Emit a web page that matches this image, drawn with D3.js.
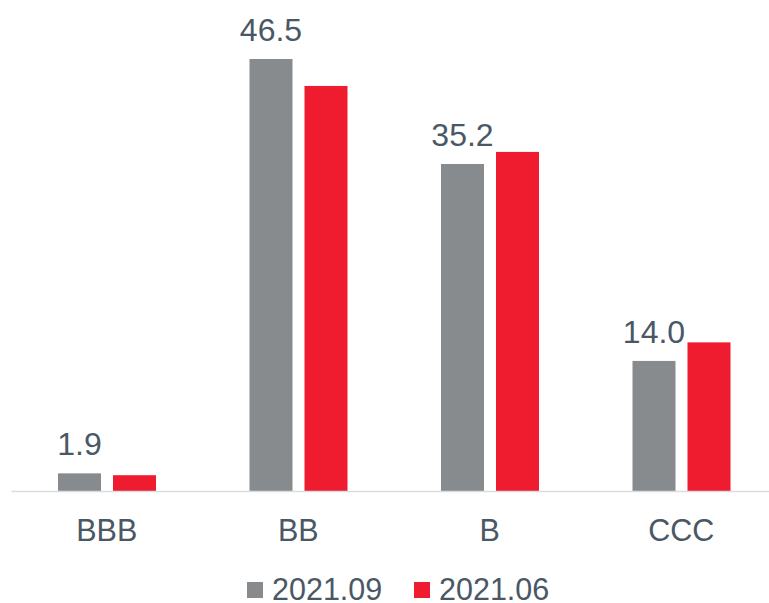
<!DOCTYPE html>
<html>
<head>
<meta charset="utf-8">
<script src="https://cdn.jsdelivr.net/npm/d3@7"></script>
<style>
  body { margin: 0; background: #fff; }
  text { font-family: "Liberation Sans", Arial, sans-serif; }
</style>
</head>
<body>
<svg id="chart" width="769" height="603"></svg>
<script>
// ratings buckets and the two snapshots
const categories = ["BBB", "BB", "B", "CCC"];
const seriesNames = ["2021.09", "2021.06"];
const values0921 = [1.9, 46.5, 35.2, 14.0];
const values0621 = [1.7, 43.6, 36.5, 16.0];
const colors = ["#888b8e", "#ee1c2e"];

const svg = d3.select("#chart");
const width = 769, height = 603;
const baseY = 491;

const data = categories.map((c, i) => ({
  cat: c,
  vals: [values0921[i], values0621[i]]
}));

const x0 = d3.scaleBand()
  .domain(categories)
  .range([11, 777])
  .padding(0);

const x1 = d3.scaleBand()
  .domain(seriesNames)
  .range([47, 145])
  .paddingInner(12 / 55)
  .paddingOuter(0);

const y = d3.scaleLinear()
  .domain([0, 50])
  .range([baseY, baseY - 50 * 9.29]);

const textColor = "#4a5866";

// bars
const groups = svg.selectAll(".grp")
  .data(data)
  .enter().append("g")
  .attr("class", "grp")
  .attr("transform", d => `translate(${x0(d.cat)},0)`);

groups.selectAll("rect")
  .data(d => d.vals.map((v, i) => ({ key: seriesNames[i], v: v, i: i })))
  .enter().append("rect")
  .attr("x", d => x1(d.key))
  .attr("y", d => y(d.v))
  .attr("width", x1.bandwidth())
  .attr("height", d => baseY - y(d.v))
  .attr("fill", d => colors[d.i]);

// value labels on first series only
groups.append("text")
  .attr("x", x1(seriesNames[0]) + x1.bandwidth() / 2)
  .attr("y", d => y(d.vals[0]) - 18)
  .attr("text-anchor", "middle")
  .attr("font-size", 32)
  .attr("fill", textColor)
  .text(d => d.vals[0].toFixed(1));

// x axis
const xAxis = d3.axisBottom(x0).tickSize(0).tickPadding(28);
const axisG = svg.append("g")
  .attr("transform", `translate(0,${baseY})`)
  .call(xAxis);
axisG.select(".domain")
  .attr("stroke", "#d9dde0")
  .attr("stroke-width", 1.5);
axisG.selectAll("text")
  .attr("font-size", 30.5)
  .attr("font-family", "Liberation Sans, Arial, sans-serif")
  .attr("fill", textColor);

// legend
const legendX = [247, 414];
const legend = svg.selectAll(".leg")
  .data(seriesNames)
  .enter().append("g")
  .attr("class", "leg")
  .attr("transform", (d, i) => `translate(${legendX[i]},0)`);

legend.append("rect")
  .attr("x", 0)
  .attr("y", 582)
  .attr("width", 16)
  .attr("height", 16)
  .attr("fill", (d, i) => colors[i]);

legend.append("text")
  .attr("x", 25)
  .attr("y", 600)
  .attr("font-size", 30.5)
  .attr("fill", textColor)
  .text(d => d);
</script>
</body>
</html>
